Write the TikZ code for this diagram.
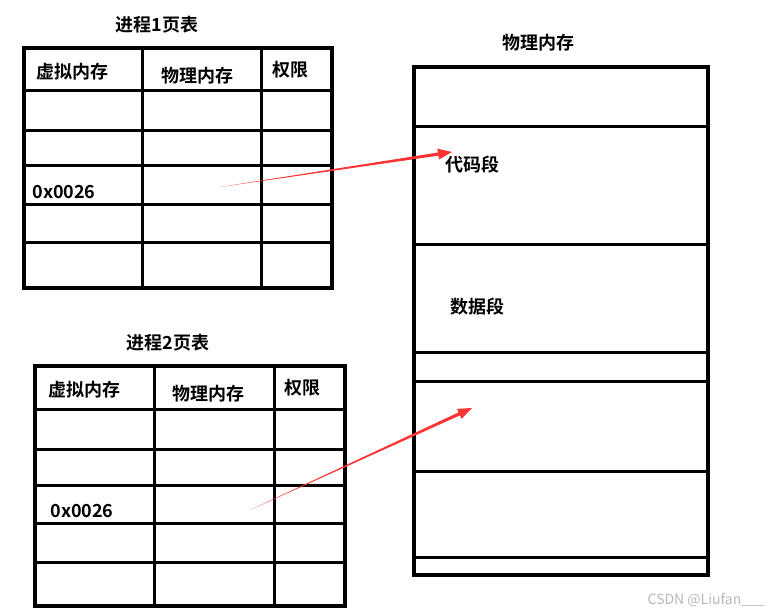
\documentclass[tikz,border=0pt]{standalone}
\usepackage{fontspec}
\setmainfont{Noto Sans CJK SC}[BoldFont={Noto Sans CJK SC Bold}]
\usetikzlibrary{calc}
\tikzset{
  thick line/.style={line width=3.6pt},
  grid line/.style={line width=3pt},
  label text/.style={font=\fontsize{18}{20}\selectfont\bfseries, inner sep=0pt},
  wm/.style={font=\fontsize{14}{16}\selectfont, text=black!28, inner sep=0pt}
}
\newcommand{\taperarrow}[2]{%
  \fill[red!80!white]
    (#1) -- ($($(#2)!14pt!(#1)$)!1.6pt!90:(#2)$)
    -- ($($(#2)!14pt!(#1)$)!5.5pt!90:(#2)$)
    -- (#2)
    -- ($($(#2)!14pt!(#1)$)!5.5pt!-90:(#2)$)
    -- ($($(#2)!14pt!(#1)$)!1.6pt!-90:(#2)$) -- cycle;}
\begin{document}
\begin{tikzpicture}[x=1pt,y=-1pt]
\useasboundingbox (0,0) rectangle (770,614);
\fill[white] (0,0) rectangle (770,614);

% ---- Table 1
\draw[thick line] (24,48) rectangle (332,288);
\draw[grid line] (142,48) -- (142,288);
\draw[grid line] (261,48) -- (261,288);
\foreach \yy in {90,130,165,204,242} \draw[grid line] (24,\yy) -- (332,\yy);
\node[label text] (t1) at (157,25) {进程1页表};
\node[label text] (h1a) at (72,72) {虚拟内存};
\node[label text] (h1b) at (197,76) {物理内存};
\node[label text] (h1c) at (290,70) {权限};
\node[label text] (v1) at (64,192) {0x0026};

% ---- Table 2
\draw[thick line] (35,366) rectangle (345,606);
\draw[grid line] (154,366) -- (154,606);
\draw[grid line] (274,366) -- (274,606);
\foreach \yy in {409,449,485,523,562} \draw[grid line] (35,\yy) -- (345,\yy);
\node[label text] (t2) at (168,343) {进程2页表};
\node[label text] (h2a) at (84,390) {虚拟内存};
\node[label text] (h2b) at (208,394) {物理内存};
\node[label text] (h2c) at (302,388) {权限};
\node[label text] (v2) at (82,511) {0x0026};

% ---- Physical memory
\draw[thick line] (414,67) rectangle (708,575);
\foreach \yy in {126,244,352,381,471,557} \draw[grid line] (414,\yy) -- (708,\yy);
\node[label text] (pm) at (538,43) {物理内存};
\node[label text] (code) at (472,165) {代码段};
\node[label text] (data) at (477,307) {数据段};

% ---- Arrows
\coordinate (s1) at (220,187);
\coordinate (e1) at (452,152);
\coordinate (s2) at (250,510);
\coordinate (e2) at (472,408);
\taperarrow{s1}{e1}
\taperarrow{s2}{e2}

% ---- watermark
\node[wm, anchor=east] (wmk) at (765,600) {CSDN @Liufan\_\_\_};
\end{tikzpicture}
\end{document}
